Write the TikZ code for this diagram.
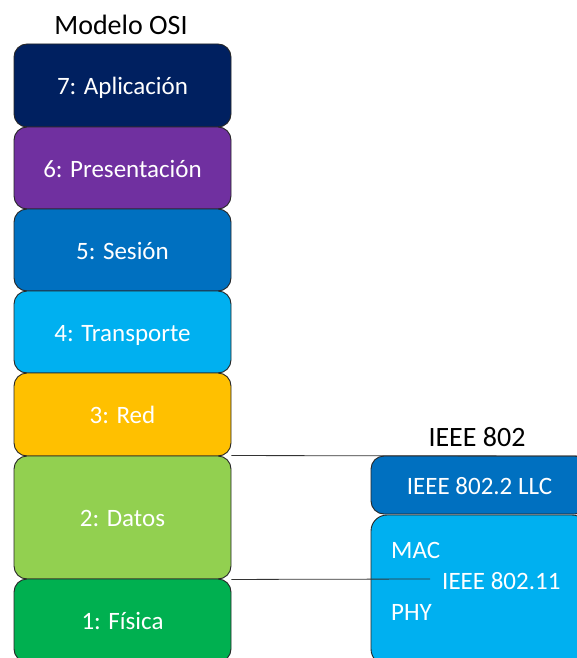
\documentclass[tikz,border=0pt]{standalone}
\usepackage{fontspec}
\setmainfont{Carlito}
\definecolor{cApp}{HTML}{002060}
\definecolor{cPres}{HTML}{7030A0}
\definecolor{cSes}{HTML}{0070C0}
\definecolor{cTrans}{HTML}{00B0F0}
\definecolor{cRed}{HTML}{FFC000}
\definecolor{cDatos}{HTML}{92D050}
\definecolor{cFis}{HTML}{00B050}
\tikzset{
  layer/.style={draw=black!85, line width=0.9pt, rounded corners=13pt,
    minimum width=217pt, inner sep=0pt, text=white,
    text height=22pt, text depth=4pt,
    font=\fontsize{25}{30}\selectfont},
  heading/.style={font=\fontsize{28}{34}\selectfont, text=black, inner sep=0pt},
  plain/.style={text=white, font=\fontsize{25}{30}\selectfont, inner sep=0pt},
  link/.style={draw=black!80, line width=0.8pt}
}
\begin{document}
\begin{tikzpicture}[x=1pt,y=-1pt]
  \useasboundingbox (0,0) rectangle (577,658);
  \clip (0,0) rectangle (577,658);

  % OSI stack
  \node[heading] (osi) at (121,25) {Modelo OSI};
  \node[layer, fill=cApp,   minimum height=83pt]  (l7) at (122.5,85.5)  {7: Aplicación};
  \node[layer, fill=cPres,  minimum height=82pt]  (l6) at (122.5,168)   {6: Presentación};
  \node[layer, fill=cSes,   minimum height=82pt]  (l5) at (122.5,250)   {5: Sesión};
  \node[layer, fill=cTrans, minimum height=82pt]  (l4) at (122.5,332)   {4: Transporte};
  \node[layer, fill=cRed,   minimum height=83pt]  (l3) at (122.5,414.5) {3: Red};
  \node[layer, fill=cDatos, minimum height=123pt] (l2) at (122.5,517.5) {2: Datos};
  \node[layer, fill=cFis,   minimum height=83pt]  (l1) at (122.5,620.5) {1: Física};

  % IEEE 802 stack
  \node[heading] (ieee) at (477,437) {IEEE 802};
  \node[layer, fill=cSes, minimum height=58pt] (llc) at (479.5,485) {IEEE 802.2 LLC};
  \node[layer, fill=cTrans, minimum height=150pt, rounded corners=16pt] (wifi) at (479.5,590) {};
  \node[plain, anchor=west] (mac) at (391,550) {MAC};
  \node[plain, anchor=west] (std) at (442,581) {IEEE 802.11};
  \node[plain, anchor=west] (phy) at (391,612) {PHY};

  % boundaries of the data link layer
  \coordinate (edge) at (577,456);
  \coordinate (split) at (430,579);
  \draw[link] (l2.north east) -- (edge);
  \draw[link] (l2.south east) -- (split);
\end{tikzpicture}
\end{document}
